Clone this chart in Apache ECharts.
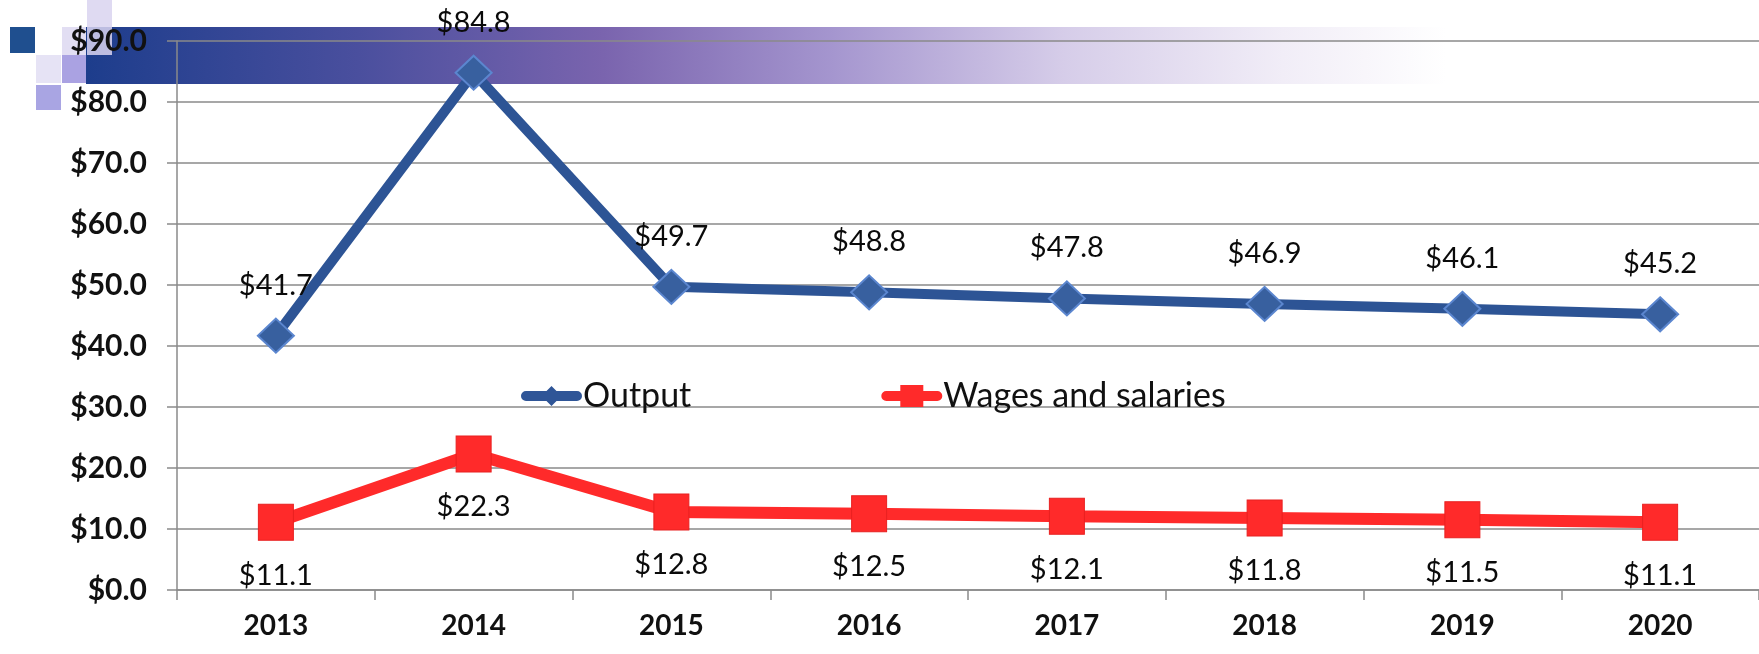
<!DOCTYPE html>
<html>
<head>
<meta charset="utf-8">
<script src="https://cdn.jsdelivr.net/npm/echarts@6/dist/echarts.min.js"></script>
<style>
html,body{margin:0;padding:0;background:#fff;}
#chart{width:1759px;height:654px;}
</style>
</head>
<body>
<div id="chart"></div>
<script>
const years = ['2013','2014','2015','2016','2017','2018','2019','2020'];
const outputValues = [41.7, 84.8, 49.7, 48.8, 47.8, 46.9, 46.1, 45.2];
const wagesValues = [11.1, 22.3, 12.8, 12.5, 12.1, 11.8, 11.5, 11.1];
const seriesNames = ['Output', 'Wages and salaries'];
const yMin = 0, yMax = 90, yStep = 10;

const FONT = 'Lato, "Open Sans", sans-serif';
const money = v => '$' + Number(v).toFixed(1);

// legend icons: thick rounded line with the series marker in the middle
const BAR = 'M5,6 L56,6 A5,5 0 0 1 56,16 L5,16 A5,5 0 0 1 5,6 Z ';
const iconOutput = 'path://' + BAR + 'M30.5,1 L40.5,11 L30.5,21 L20.5,11 Z';
const iconWages = 'path://' + BAR + 'M19,0 L42,0 L42,22 L19,22 Z';

const chart = echarts.init(document.getElementById('chart'));
chart.setOption({
  backgroundColor: '#ffffff',
  animation: false,
  graphic: [
    { type: 'rect', z: -10, shape: { x: 86, y: 27, width: 1360, height: 57 },
      style: { fill: new echarts.graphic.LinearGradient(0, 0, 1, 0, [
        { offset: 0, color: '#1d3d8c' },
        { offset: 0.2, color: '#4a4f9e' },
        { offset: 0.38, color: '#7a64ae' },
        { offset: 0.55, color: '#a596cf' },
        { offset: 0.72, color: '#d6cde9' },
        { offset: 0.88, color: '#f1edf7' },
        { offset: 1, color: '#ffffff' }
      ]) } },
    { type: 'rect', z: -9, shape: { x: 10, y: 27, width: 25, height: 26 }, style: { fill: '#1f4f8f' } },
    { type: 'rect', z: -9, shape: { x: 62, y: 27, width: 24, height: 28 }, style: { fill: '#e2def3' } },
    { type: 'rect', z: -9, shape: { x: 36, y: 55, width: 25, height: 28 }, style: { fill: '#e6e3f5' } },
    { type: 'rect', z: -9, shape: { x: 62, y: 55, width: 24, height: 28 }, style: { fill: '#aaa2e2' } },
    { type: 'rect', z: -9, shape: { x: 36, y: 85, width: 25, height: 25 }, style: { fill: '#a9a5e3' } },
    { type: 'rect', z: -9, shape: { x: 87, y: 0, width: 25, height: 55 }, style: { fill: '#d9d4f0', opacity: 0.85 } }
  ],
  grid: { left: 177, top: 41, width: 1590, height: 549, containLabel: false },
  legend: {
    left: 516, top: 374,
    itemGap: 190,
    itemWidth: 61, itemHeight: 22,
    itemStyle: { borderWidth: 0 },
    textStyle: { fontFamily: FONT, fontSize: 34, color: '#111', padding: [0, 0, 0, -4] },
    data: [
      { name: seriesNames[0], icon: iconOutput, itemStyle: { color: '#2f5597' } },
      { name: seriesNames[1], icon: iconWages, itemStyle: { color: '#ff2a2a' } }
    ]
  },
  xAxis: {
    type: 'category',
    data: years,
    boundaryGap: true,
    axisLine: { show: true, lineStyle: { color: '#8a8a8a', width: 1.5 } },
    axisTick: { show: true, interval: 0, length: 10, lineStyle: { color: '#8a8a8a', width: 1.5 } },
    axisLabel: { interval: 0, margin: 22, fontFamily: FONT, fontSize: 28, fontWeight: 'bold', color: '#111' },
    splitLine: { show: false }
  },
  yAxis: {
    type: 'value',
    min: yMin, max: yMax, interval: yStep,
    axisLine: { show: true, lineStyle: { color: '#8a8a8a', width: 1.5 } },
    axisTick: { show: true, length: 10, lineStyle: { color: '#8a8a8a', width: 1.5 } },
    axisLabel: { margin: 30, fontFamily: FONT, fontSize: 30, fontWeight: 'bold', color: '#111', formatter: v => money(v) },
    splitLine: { show: true, lineStyle: { color: '#8a8a8a', width: 1.5 } }
  },
  series: [
    {
      name: seriesNames[0], type: 'line', data: outputValues,
      symbol: 'diamond', symbolSize: [36, 34],
      lineStyle: { color: '#2d5495', width: 10 },
      itemStyle: { color: '#38609f', borderColor: '#5b86cf', borderWidth: 2 },
      label: { show: true, position: 'top', distance: 18, fontFamily: FONT, fontSize: 29, color: '#0a0a0a', formatter: p => money(p.value) },
      z: 3
    },
    {
      name: seriesNames[1], type: 'line', data: wagesValues,
      symbol: 'rect', symbolSize: [35, 36],
      lineStyle: { color: '#ff2a2a', width: 12 },
      itemStyle: { color: '#ff2a2a', borderColor: '#e82020', borderWidth: 1 },
      label: { show: true, position: 'bottom', distance: 20, fontFamily: FONT, fontSize: 29, color: '#0a0a0a', formatter: p => money(p.value) },
      z: 3
    }
  ]
});
</script>
</body>
</html>
